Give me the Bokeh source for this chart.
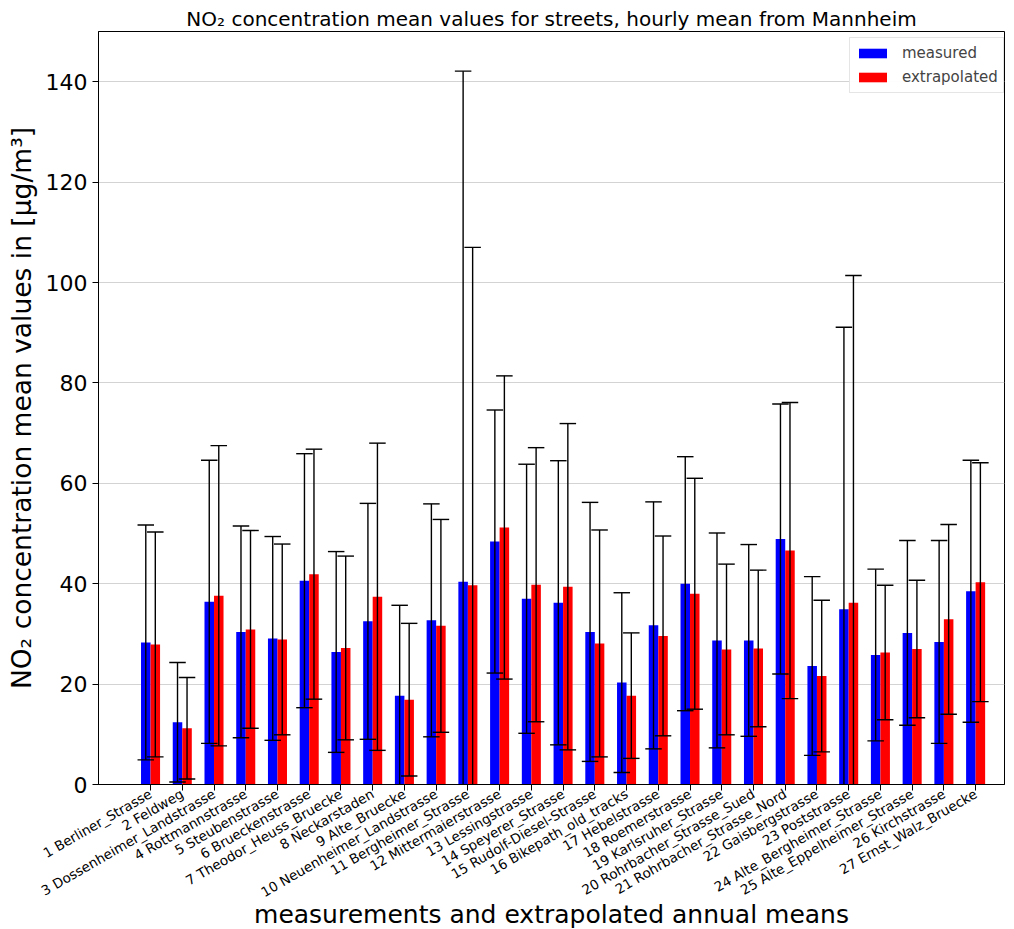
import math
from bokeh.plotting import figure
from bokeh.models import FixedTicker, Legend, LegendItem, Range1d
from bokeh.embed import file_html
from bokeh.resources import INLINE

names = ["1 Berliner_Strasse", "2 Feldweg", "3 Dossenheimer_Landstrasse", "4 Rottmannstrasse",
         "5 Steubenstrasse", "6 Brueckenstrasse", "7 Theodor_Heuss_Bruecke", "8 Neckarstaden",
         "9 Alte_Bruecke", "10 Neuenheimer_Landstrasse", "11 Bergheimer_Strasse",
         "12 Mittermaierstrasse", "13 Lessingstrasse", "14 Speyerer_Strasse",
         "15 Rudolf-Diesel-Strasse", "16 Bikepath_old_tracks", "17 Hebelstrasse",
         "18 Roemerstrasse", "19 Karlsruher_Strasse", "20 Rohrbacher_Strasse_Sued",
         "21 Rohrbacher_Strasse_Nord", "22 Gaisbergstrasse", "23 Poststrasse",
         "24 Alte_Bergheimer_Strasse", "25 Alte_Eppelheimer_Strasse", "26 Kirchstrasse",
         "27 Ernst_Walz_Bruecke"]

measured = [28.3, 12.4, 36.4, 30.4, 29.1, 40.6, 26.4, 32.5, 17.7, 32.7, 40.4, 48.4, 37.0, 36.2,
            30.4, 20.3, 31.7, 40.0, 28.7, 28.7, 48.9, 23.6, 34.9, 25.8, 30.2, 28.4, 38.5]
measured_err = [23.4, 11.9, 28.2, 21.1, 20.3, 25.3, 20.0, 23.5, 18.0, 23.2, 101.7, 26.2, 26.8, 28.3,
                25.8, 17.9, 24.6, 25.3, 21.4, 19.1, 26.9, 17.8, 56.2, 17.1, 18.4, 20.2, 26.1]
extrapolated = [27.9, 11.2, 37.6, 30.9, 28.9, 41.9, 27.2, 37.4, 16.9, 31.6, 39.7, 51.2, 39.8, 39.4,
                28.1, 17.7, 29.6, 38.0, 26.9, 27.1, 46.6, 21.6, 36.2, 26.3, 27.0, 32.9, 40.3]
extrapolated_err = [22.4, 10.1, 29.9, 19.7, 19.0, 24.9, 18.3, 30.6, 15.2, 21.2, 67.3, 30.2, 27.3, 32.5,
                    22.6, 12.5, 19.9, 23.0, 17.0, 15.6, 29.5, 15.1, 65.2, 13.4, 13.7, 18.9, 23.8]
y_ticks = [0, 20, 40, 60, 80, 100, 120, 140]

pos = list(range(1, len(names) + 1))
bw = 0.3
cap = 0.26
xm = [p - bw / 2 for p in pos]
xe = [p + bw / 2 for p in pos]

FONT = "DejaVu Sans"

p = figure(frame_width=906, frame_height=753, output_backend="svg", toolbar_location=None,
           x_range=Range1d(-0.64, 27.91), y_range=Range1d(0, 150),
           min_border_left=98, min_border_right=2, min_border_top=31, min_border_bottom=138,
           title="NO\u2082 concentration mean values for streets, hourly mean from Mannheim")
p.title.align = "center"
p.title.text_font = FONT
p.title.text_font_size = "20px"
p.title.text_font_style = "normal"
p.title.text_color = "black"
p.title.standoff = 2
p.title.offset = 0

rb = p.vbar(x=xm, top=measured, width=bw, color="#0000ff", line_color=None)
rr = p.vbar(x=xe, top=extrapolated, width=bw, color="#ff0000", line_color=None)

for xs, vals, errs in ((xm, measured, measured_err), (xe, extrapolated, extrapolated_err)):
    lo = [v - e for v, e in zip(vals, errs)]
    hi = [v + e for v, e in zip(vals, errs)]
    p.segment(x0=xs, y0=lo, x1=xs, y1=hi, line_color="black", line_width=1.4)
    p.segment(x0=[x - cap for x in xs], y0=hi, x1=[x + cap for x in xs], y1=hi,
              line_color="black", line_width=1.4)
    p.segment(x0=[x - cap for x in xs], y0=lo, x1=[x + cap for x in xs], y1=lo,
              line_color="black", line_width=1.4)

legend = Legend(items=[LegendItem(label="measured", renderers=[rb]),
                       LegendItem(label="extrapolated", renderers=[rr])],
                location=(751, 691))
legend.label_text_font = FONT
legend.label_text_font_size = "15px"
legend.glyph_width = 35
legend.glyph_height = 12
legend.label_height = 20
legend.border_line_color = "#cccccc"
legend.margin = 0
legend.padding = 5
legend.spacing = 4
legend.label_standoff = 12
p.add_layout(legend)

p.xaxis.ticker = FixedTicker(ticks=pos)
p.xaxis.major_label_overrides = {i: n for i, n in zip(pos, names)}
p.xaxis.major_label_orientation = math.pi / 6
p.xaxis.major_label_text_font = FONT
p.xaxis.major_label_text_font_size = "13.5px"
p.xaxis.minor_tick_line_color = None
p.xaxis.axis_label = "measurements and extrapolated annual means"
p.xaxis.axis_label_text_font = FONT
p.xaxis.axis_label_text_font_size = "25px"
p.xaxis.axis_label_text_font_style = "normal"
p.xaxis.axis_label_standoff = -10
p.xaxis.major_label_standoff = 2

p.yaxis.ticker = FixedTicker(ticks=y_ticks)
p.yaxis.minor_tick_line_color = None
p.yaxis.major_label_text_font = FONT
p.yaxis.major_label_text_font_size = "22px"
p.yaxis.axis_label = "NO\u2082 concentration mean values in [\u03bcg/m\u00b3]"
p.yaxis.axis_label_text_font = FONT
p.yaxis.axis_label_text_font_size = "26.5px"
p.yaxis.axis_label_text_font_style = "normal"
p.yaxis.axis_label_standoff = 6

for ax in (p.xaxis, p.yaxis):
    ax.axis_line_color = "black"
    ax.major_tick_line_color = "black"
    ax.major_tick_out = 6
    ax.major_tick_in = 0
    ax.major_label_text_color = "black"
    ax.axis_label_text_color = "black"

p.xgrid.grid_line_color = None
p.ygrid.grid_line_color = "#d3d3d3"
p.ygrid.grid_line_width = 1
p.outline_line_color = "black"
p.outline_line_width = 1

open("out.html", "w").write(file_html(p, INLINE))
